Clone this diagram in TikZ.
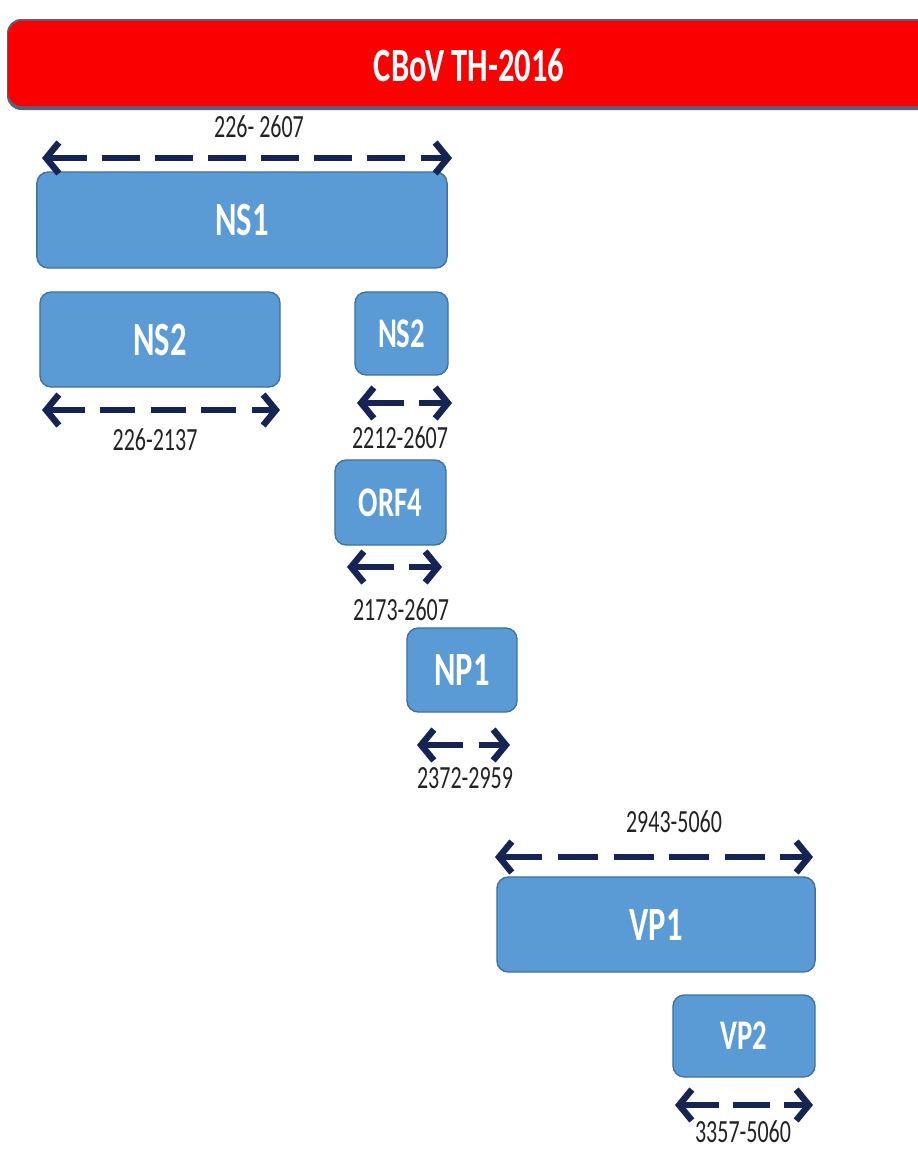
\documentclass[tikz,border=0pt]{standalone}
\usepackage{fontspec}
\setmainfont{Carlito}[FakeStretch=0.68]
\usetikzlibrary{arrows.meta}
\definecolor{barred}{RGB}{250,0,0}
\definecolor{barshade}{RGB}{95,95,115}
\definecolor{genefill}{RGB}{91,155,213}
\definecolor{geneline}{RGB}{65,113,156}
\definecolor{spannavy}{RGB}{22,36,84}
\definecolor{postext}{RGB}{35,35,35}
\tikzset{
  gene/.style={draw=geneline, line width=1pt, fill=genefill, rounded corners=8pt,
    text=white, font=\bfseries\fontsize{34}{38}\selectfont, inner sep=0pt},
  smallgene/.style={gene, font=\bfseries\fontsize{30}{34}\selectfont},
  span/.style={draw=spannavy, line width=4.6pt,
    {Straight Barb[length=9pt,width=22pt]}-{Straight Barb[length=9pt,width=22pt]}},
  postxt/.style={text=postext, font=\fontsize{23}{26}\selectfont, inner sep=0pt},
}
\begin{document}
\begin{tikzpicture}[x=0.025cm, y=-0.025cm]
  \useasboundingbox (0,0) rectangle (918,1158);
  % title bar
  \begin{scope}
    \clip (0,0) rectangle (918,1158);
    \fill[barshade, rounded corners=10pt] (7,19) rectangle (940,110);
    \fill[barred, rounded corners=10pt] (8,21) rectangle (940,106);
  \end{scope}
  \node[text=white, font=\bfseries\fontsize{34}{38}\selectfont] (title) at (469,65) {CBoV TH-2016};

  % genes
  \node[gene, minimum width=10.25cm, minimum height=2.4cm] (ns1) at (242,220) {NS1};
  \node[gene, minimum width=6cm, minimum height=2.375cm] (ns2a) at (160,339.5) {NS2};
  \node[smallgene, minimum width=2.325cm, minimum height=2.075cm] (ns2b) at (401.5,333.5) {NS2};
  \node[smallgene, minimum width=2.775cm, minimum height=2.125cm] (orf4) at (390.5,502.5) {ORF4};
  \node[gene, minimum width=2.75cm, minimum height=2.1cm] (np1) at (462,670) {NP1};
  \node[gene, minimum width=7.95cm, minimum height=2.375cm] (vp1) at (656,924.5) {VP1};
  \node[smallgene, minimum width=3.55cm, minimum height=2.05cm] (vp2) at (744,1036) {VP2};

  % span ends
  \coordinate (ns1l) at (42,158);   \coordinate (ns1r) at (452,158);
  \coordinate (ns2al) at (42,410);  \coordinate (ns2ar) at (280,410);
  \coordinate (ns2bl) at (357,403); \coordinate (ns2br) at (452,403);
  \coordinate (orf4l) at (347,567); \coordinate (orf4r) at (442,567);
  \coordinate (np1l) at (417,745);  \coordinate (np1r) at (510,745);
  \coordinate (vp1l) at (495,857);  \coordinate (vp1r) at (813,857);
  \coordinate (vp2l) at (675,1105); \coordinate (vp2r) at (813,1105);

  \draw[span, dash pattern=on 27pt off 10.7pt] (ns1l) -- (ns1r);
  \draw[span, dash pattern=on 25pt off 11pt] (ns2al) -- (ns2ar);
  \draw[span, dash pattern=on 28.5pt off 10.6pt] (ns2bl) -- (ns2br);
  \draw[span, dash pattern=on 28.5pt off 10.6pt] (orf4l) -- (orf4r);
  \draw[span, dash pattern=on 27.5pt off 11pt] (np1l) -- (np1r);
  \draw[span, dash pattern=on 28.5pt off 11pt] (vp1l) -- (vp1r);
  \draw[span, dash pattern=on 26pt off 10pt] (vp2l) -- (vp2r);

  % positions
  \node[postxt] (ns1pos) at (259,127) {226- 2607};
  \node[postxt] (ns2apos) at (155,440) {226-2137};
  \node[postxt] (ns2bpos) at (400,438) {2212-2607};
  \node[postxt] (orf4pos) at (401,610) {2173-2607};
  \node[postxt] (np1pos) at (465,778) {2372-2959};
  \node[postxt] (vp1pos) at (674,822) {2943-5060};
  \node[postxt] (vp2pos) at (743,1132) {3357-5060};
\end{tikzpicture}
\end{document}
